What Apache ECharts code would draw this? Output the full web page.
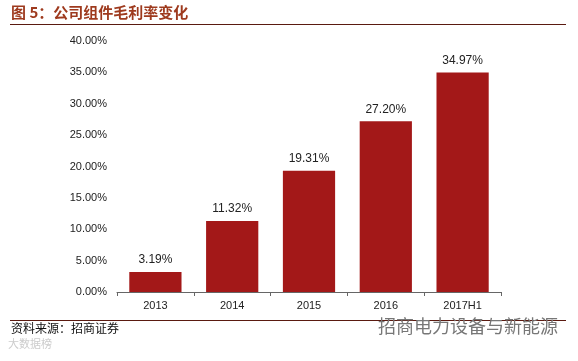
<!DOCTYPE html>
<html><head><meta charset="utf-8">
<script src="https://cdn.jsdelivr.net/npm/echarts@6/dist/echarts.min.js"></script>
<style>html,body{margin:0;padding:0;background:#fff}#c{width:578px;height:361px}</style>
</head><body><div id="c"></div>
<script>
const categories = ['2013','2014','2015','2016','2017H1'];
const margins = [3.19, 11.32, 19.31, 27.20, 34.97];
const yTicks = [0,5,10,15,20,25,30,35,40];

const chart = echarts.init(document.getElementById('c'));
chart.setOption({
  animation:false,
  backgroundColor:'#fff',
  grid:{left:117,right:77,top:41,bottom:69},
  xAxis:{type:'category',data:categories,
    axisLine:{lineStyle:{color:'#666'}},
    axisTick:{show:true,alignWithLabel:false,length:4,lineStyle:{color:'#666'}},
    axisLabel:{color:'#222',fontSize:11,fontFamily:'Arial, Liberation Sans',margin:8}},
  yAxis:{type:'value',min:yTicks[0],max:yTicks[yTicks.length-1],interval:5,
    axisLine:{show:false},axisTick:{show:false},splitLine:{show:false},
    axisLabel:{color:'#222',fontSize:11,fontFamily:'Arial, Liberation Sans',margin:10,
      formatter:v=>v.toFixed(2)+'%'}},
  series:[{type:'bar',data:margins,barCategoryGap:'32%',
    itemStyle:{color:'#A31818'},
    label:{show:true,position:'top',distance:6,color:'#222',fontSize:12,fontFamily:'Arial, Liberation Sans',
      formatter:p=>p.value.toFixed(2)+'%'}}],
  graphic:[
    {type:'text',left:11,top:5,style:{text:'图 5：公司组件毛利率变化',fill:'#9E3A1E',font:'bold 15px "Noto Sans CJK SC"'}},
    {type:'line',shape:{x1:10,y1:24.5,x2:566,y2:24.5},style:{stroke:'#5A1A10',lineWidth:1}},
    {type:'line',shape:{x1:10,y1:320.5,x2:566,y2:320.5},style:{stroke:'#5A1A10',lineWidth:1}},
    {type:'text',left:11,top:322,style:{text:'资料来源：招商证券',fill:'#111',font:'12px "Noto Sans CJK SC"'}},
    {type:'text',left:378,top:317,style:{text:'招商电力设备与新能源',fill:'#777',font:'18px "Noto Sans CJK SC"'}},
    {type:'text',left:8,top:338,style:{text:'大数据榜',fill:'#ccc',font:'11px "Noto Sans CJK SC"'}}
  ]
});
</script></body></html>
